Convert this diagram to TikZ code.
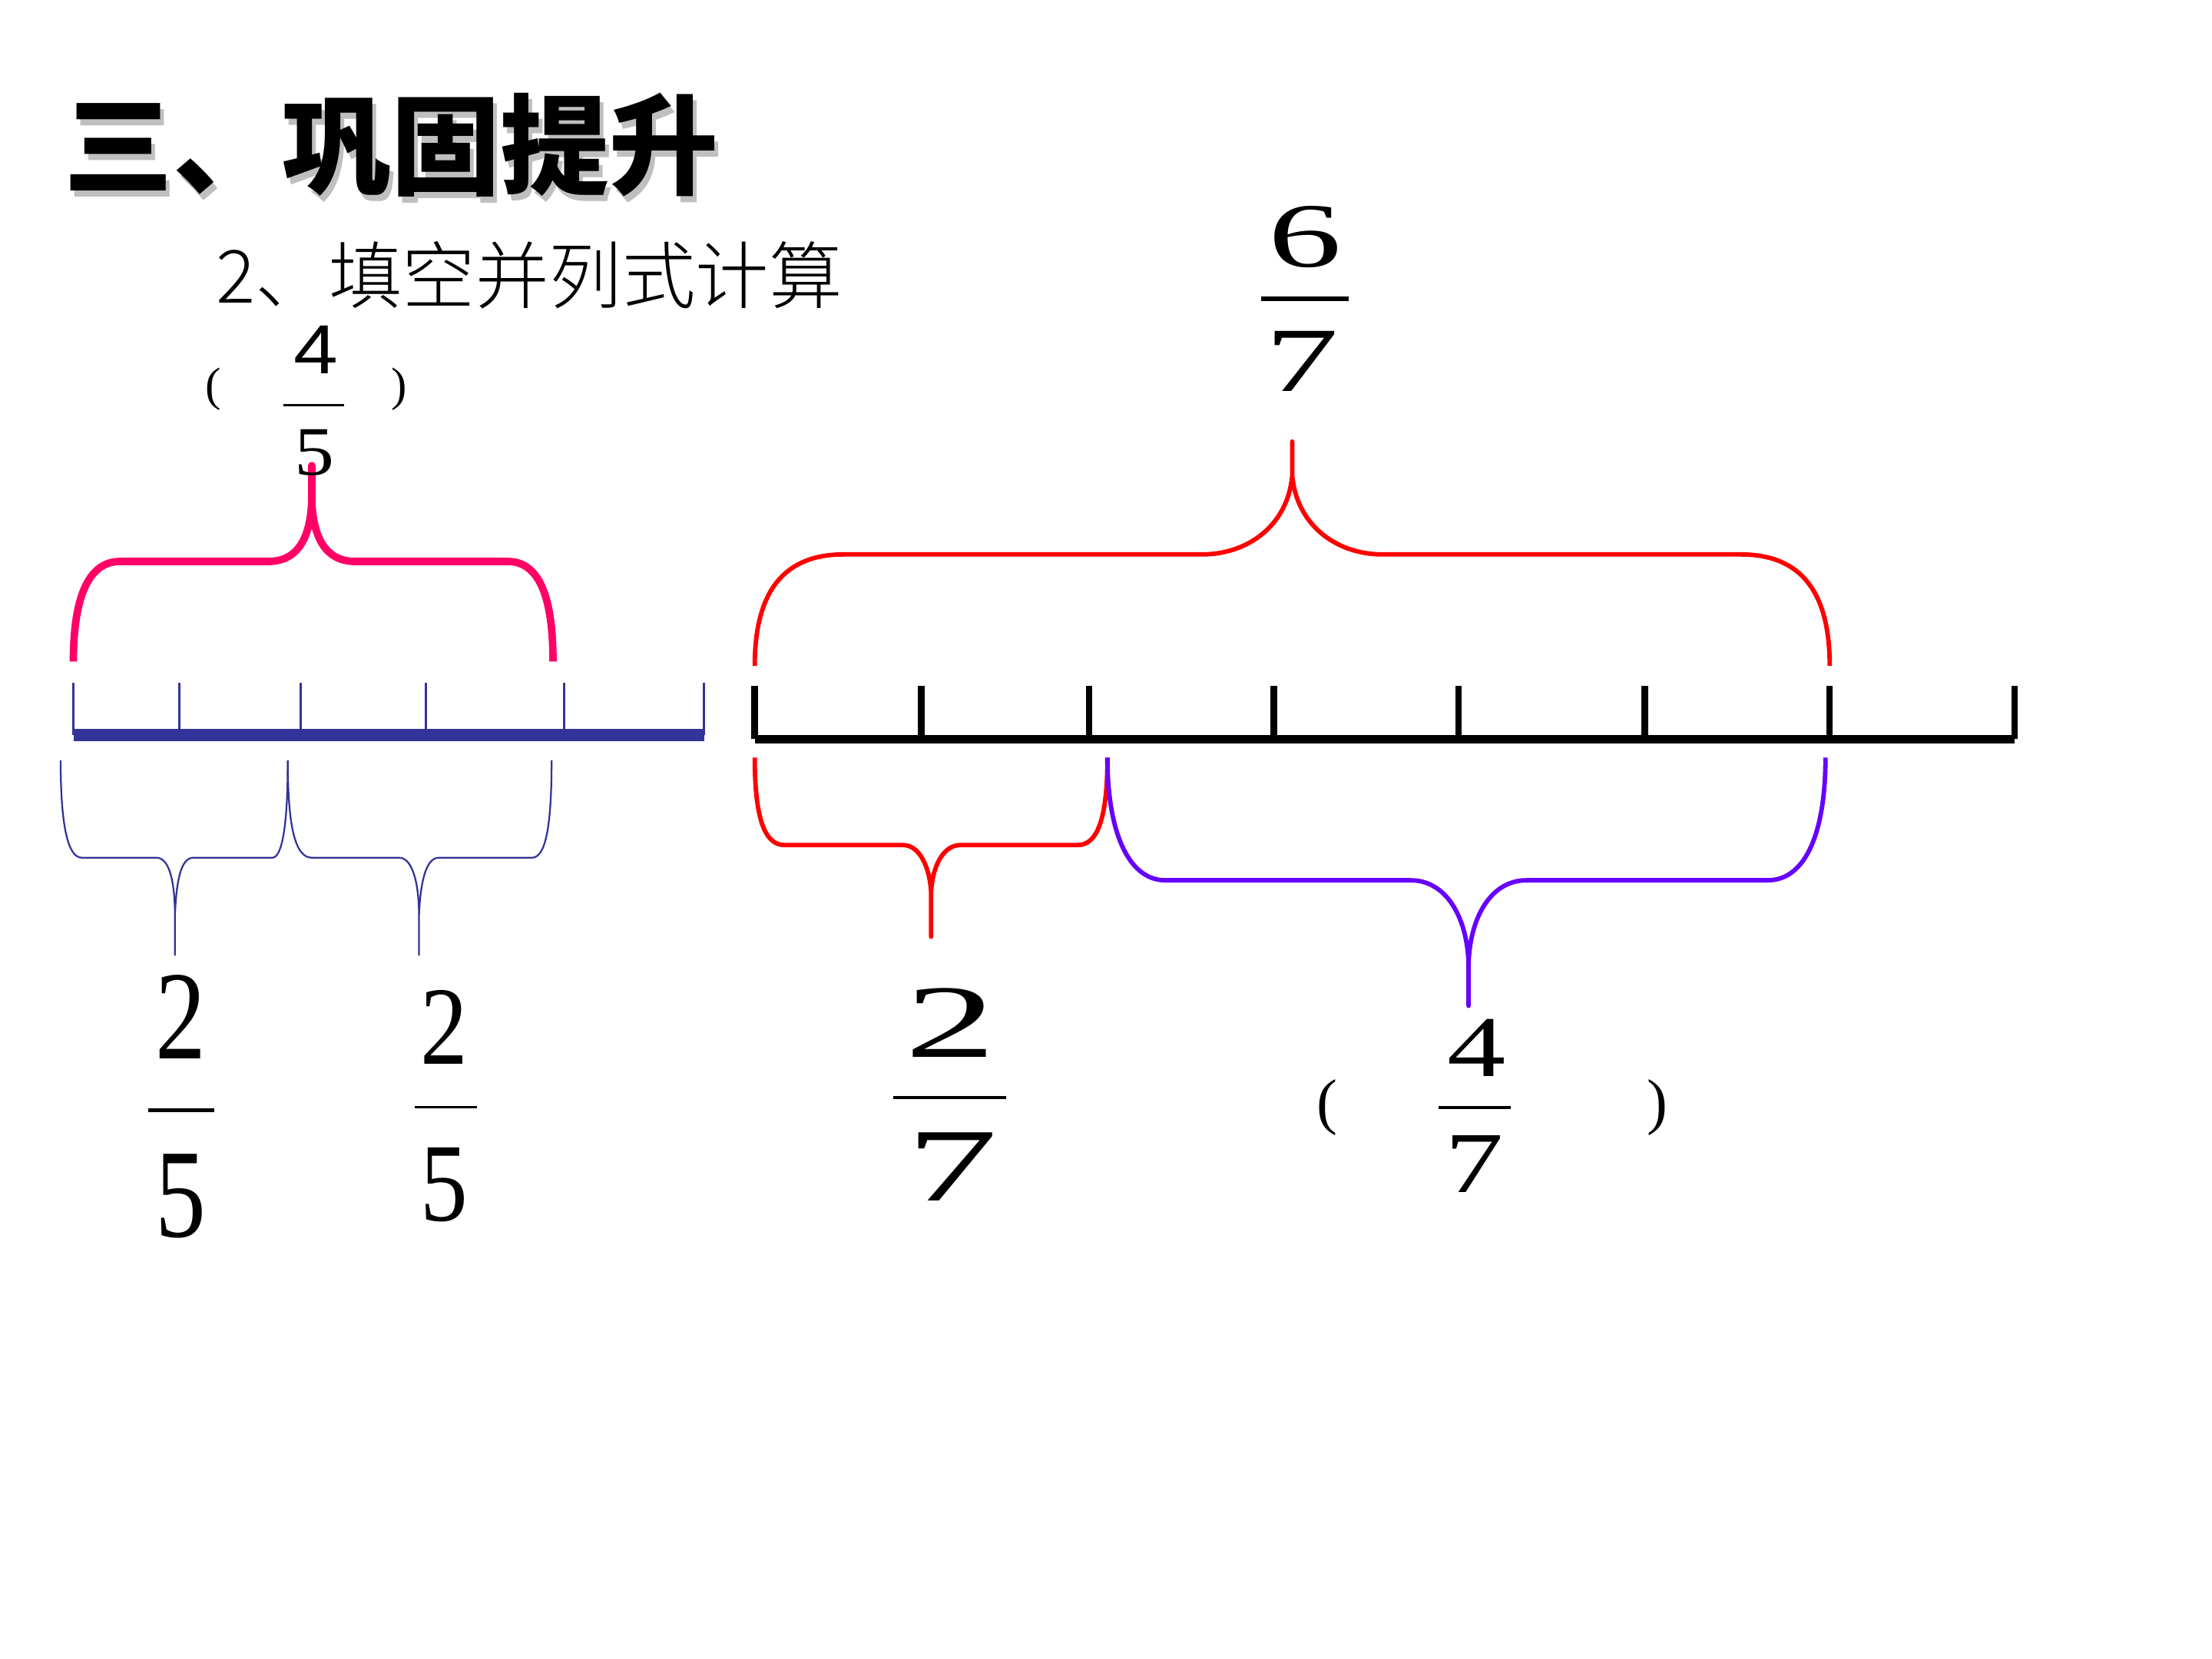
\documentclass[tikz,border=0pt]{standalone}
\usepackage{fontspec}
\usepackage{graphicx}
\newfontfamily\cjkheavy{Noto Sans CJK SC Black}
\newfontfamily\cjk{Noto Sans CJK SC Light}
\newfontfamily\numfont{Liberation Serif}
\newfontfamily\sansnum{Liberation Sans}
\definecolor{pinkbr}{HTML}{FF0066}
\definecolor{redbr}{HTML}{FF0000}
\definecolor{violetbr}{HTML}{6600FF}
\definecolor{lineblue}{HTML}{333399}
\tikzset{
  blueline/.style={lineblue, line width=5pt},
  bluetick/.style={lineblue, line width=0.8pt},
  blackline/.style={black, line width=3.4pt},
  blacktick/.style={black, line width=2.6pt},
  pinkbrace/.style={pinkbr, line width=3pt, line join=round},
  redbrace/.style={redbr, line width=1.8pt, line join=round},
  violetbrace/.style={violetbr, line width=1.8pt, line join=round},
  bluebrace/.style={lineblue, line width=0.7pt, line join=round},
  fracbar/.style={black, line width=1.2pt}
}
\begin{document}
\begin{tikzpicture}[x=0.02cm, y=-0.02cm, every node/.style={inner sep=0pt}]
\useasboundingbox[fill=white] (0,0) rectangle (1568,1176);

% title, with its grey shadow
\node[anchor=west] (title) at (45,105) {\fontsize{44}{44}\cjkheavy
  \rlap{\kern1.7pt\raisebox{-2.3pt}{\color{black!25}三、巩固提升}}三、巩固提升};
\node[anchor=west] (task) at (153,195) {\fontsize{29.6}{30}\cjk 2、填空并列式计算};

% left number line
\draw[blueline] (52,521) -- (499,521);
\foreach \x in {52,127,213,302,400,499}
  \draw[bluetick] (\x,484) -- (\x,521);

\draw[pinkbrace] (52,469) .. controls (52,425) and (62,398) .. (85,398) -- (190,398)
  .. controls (212,398) and (220,380) .. (221,355) -- (221,330) -- (221,355)
  .. controls (222,380) and (230,398) .. (252,398) -- (360,398)
  .. controls (383,398) and (392,425) .. (392,469);

\draw[bluebrace] (43,539) .. controls (43,585) and (48,608) .. (58,608) -- (111,608)
  .. controls (120,608) and (124,625) .. (124,649) -- (124,677) -- (124,649)
  .. controls (125,625) and (128,608) .. (137,608) -- (193,608)
  .. controls (200,608) and (204,585) .. (204,539);
\draw[bluebrace] (204,539) .. controls (204,585) and (209,608) .. (221,608) -- (283,608)
  .. controls (292,608) and (297,625) .. (297,649) -- (297,677) -- (297,649)
  .. controls (298,625) and (302,608) .. (311,608) -- (377,608)
  .. controls (387,608) and (391,585) .. (391,539);

% (4/5)
\node (lpar45) at (151,276) {\fontsize{19}{19}\numfont (};
\node (rpar45) at (283,276) {\fontsize{19}{19}\numfont )};
\node (num45) at (224,248) {\scalebox{1.15}[1]{\fontsize{28}{28}\sansnum 4}};
\node (den45) at (223,321) {\scalebox{1.15}[1]{\fontsize{28}{28}\numfont 5}};
\draw[fracbar, line width=1pt] (201,287) -- (244,287);

% 2/5 and 2/5
\node (numa25) at (128,721) {\scalebox{0.8}[1]{\fontsize{51}{51}\numfont 2}};
\node (dena25) at (128,848) {\scalebox{0.8}[1]{\fontsize{51}{51}\numfont 5}};
\draw[fracbar, line width=1.3pt] (105,787) -- (152,787);
\node (numb25) at (315,728) {\scalebox{0.85}[1]{\fontsize{45}{45}\numfont 2}};
\node (denb25) at (315,840) {\scalebox{0.85}[1]{\fontsize{45}{45}\numfont 5}};
\draw[fracbar, line width=0.9pt] (294,785) -- (338,785);

% right number line
\draw[blackline] (535,524) -- (1428,524);
\foreach \x in {535,653,772,903,1034,1166,1297,1428}
  \draw[blacktick] (\x,486) -- (\x,524);

\draw[redbrace] (535,472) .. controls (535,420) and (555,393) .. (598,393) -- (852,393)
  .. controls (885,393) and (913,372) .. (916,337) -- (916,313) -- (916,337)
  .. controls (919,372) and (947,393) .. (980,393) -- (1234,393)
  .. controls (1277,393) and (1297,420) .. (1297,472);

\draw[redbrace] (535,537) .. controls (535,580) and (542,599) .. (556,599) -- (640,599)
  .. controls (652,599) and (659,615) .. (660,632) -- (660,664) -- (660,632)
  .. controls (661,615) and (668,599) .. (681,599) -- (764,599)
  .. controls (778,599) and (785,580) .. (785,537);

\draw[violetbrace] (785,537) .. controls (785,590) and (800,624) .. (826,624) -- (1000,624)
  .. controls (1025,624) and (1040,650) .. (1041,683) -- (1041,713) -- (1041,683)
  .. controls (1042,650) and (1057,624) .. (1082,624) -- (1253,624)
  .. controls (1280,624) and (1294,590) .. (1294,537);

% 6/7
\node (num67) at (925,168) {\scalebox{1.6}[1]{\fontsize{37}{37}\numfont 6}};
\node (den67) at (923,256) {\scalebox{1.6}[1]{\fontsize{37}{37}\numfont 7}};
\draw[fracbar, line width=1.8pt] (894,212) -- (956,212);

% 2/7
\node (num27) at (674,725) {\scalebox{1.75}[1]{\fontsize{42}{42}\numfont 2}};
\node (den27) at (675,827) {\scalebox{1.75}[1]{\fontsize{42}{42}\numfont 7}};
\draw[fracbar, line width=1.5pt] (633,778) -- (713,778);

% (4/7)
\node (lpar47) at (941,785) {\fontsize{25}{25}\numfont (};
\node (rpar47) at (1175,785) {\fontsize{25}{25}\numfont )};
\node (num47) at (1047,743) {\scalebox{1.35}[1]{\fontsize{35}{35}\numfont 4}};
\node (den47) at (1045,825) {\scalebox{1.35}[1]{\fontsize{35}{35}\numfont 7}};
\draw[fracbar] (1020,785) -- (1071,785);
\end{tikzpicture}
\end{document}
